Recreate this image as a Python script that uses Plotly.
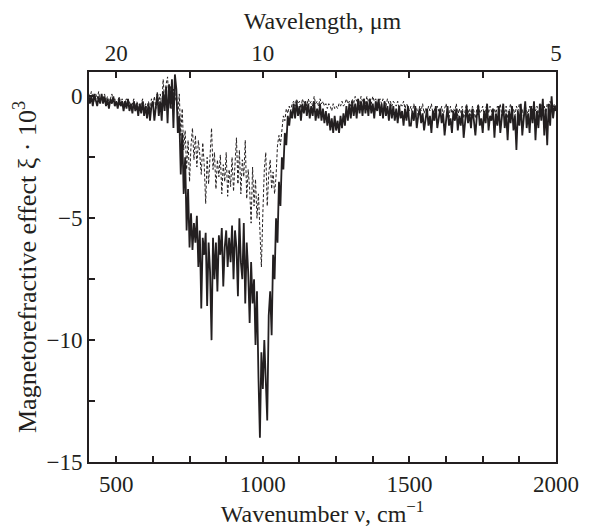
import numpy as np
import plotly.graph_objects as go

# wavenumber grid, cm^-1 (5 cm^-1 step)
wavenumber = np.arange(405, 2001, 5)

# solid curve, xi * 10^3
effect_solid = [
    0.1, -0.3, 0.0, -0.4, 0.1, -0.2, -0.4, 0.0, -0.3, 0.1,
    -0.3, 0.0, -0.4, -0.1, -0.5, -0.1, -0.3, 0.0, -0.4, -0.2,
    -0.5, -0.1, -0.4, -0.2, -0.6, -0.2, -0.5, -0.1, -0.6, -0.3,
    -0.7, -0.2, -0.6, -0.3, -0.8, -0.3, -0.7, -0.2, -0.8, -0.4,
    -0.9, -0.3, -1.0, -0.4, -0.2, -1.0, -0.3, 0.1, -0.8, -0.2,
    -1.0, 0.2, -0.6, 0.4, -1.1, 0.5, -0.5, 0.7, -1.3, 0.9,
    0.3, -1.5, -0.8, -3.2, -1.5, -4.0, -2.5, -5.5, -3.8, -6.2,
    -4.8, -6.3, -5.2, -6.0, -4.9, -7.0, -5.5, -8.7, -5.8, -6.5,
    -5.6, -8.6, -6.0, -7.2, -10.0, -5.8, -7.5, -6.0, -8.0, -5.7,
    -6.5, -5.4, -7.8, -6.2, -5.5, -7.0, -5.8, -6.8, -5.3, -7.5,
    -5.5, -6.2, -8.2, -5.0, -6.8, -7.5, -5.2, -8.5, -6.0, -7.2,
    -9.3, -6.8, -8.5, -7.5, -10.2, -8.0, -11.5, -14.0, -10.5, -12.0,
    -10.0, -11.5, -13.3, -9.0, -8.0, -9.8, -6.5, -7.5, -5.0, -6.0,
    -3.5, -4.5, -2.5, -3.0, -1.5, -2.0, -0.8, -1.2, -0.6, -0.9,
    -0.3, -0.9, -0.2, -0.8, -0.4, -1.0, -0.3, -0.7, -0.2, -0.8,
    -0.3, -0.9, -0.4, -0.8, -0.2, -1.0, -0.5, -0.9, -0.3, -1.0,
    -0.5, -1.1, -0.6, -1.2, -0.7, -1.4, -0.9, -1.5, -0.8, -1.4,
    -1.0, -1.5, -0.8, -1.3, -0.7, -1.2, -0.4, -1.0, -0.3, -0.9,
    -0.2, -0.8, -0.3, -0.9, -0.1, -0.7, -0.2, -0.8, -0.1, -0.7,
    -0.2, -0.8, -0.1, -0.7, -0.3, -0.9, -0.2, -0.6, -0.1, -0.8,
    -0.3, -0.9, -0.2, -0.8, -0.4, -1.0, -0.3, -0.9, -0.4, -1.0,
    -0.5, -1.1, -0.4, -0.9, -0.6, -1.2, -0.5, -1.0, -0.4, -1.2,
    -1.2, -0.6, -1.0, -0.4, -1.3, -0.8, -0.5, -1.1, -0.7, -1.4,
    -0.9, -0.5, -1.2, -0.8, -1.5, -0.6, -1.0, -0.4, -1.3, -0.9,
    -0.5, -1.1, -0.7, -1.6, -0.8, -0.4, -1.2, -0.9, -1.5, -0.6,
    -1.0, -0.5, -1.4, -0.8, -1.2, -0.6, -1.7, -0.9, -0.4, -1.1,
    -0.7, -1.3, -0.5, -1.0, -1.6, -0.8, -0.4, -1.2, -0.9, -1.5,
    -0.6, -1.1, -0.3, -1.4, -0.8, -1.0, -0.5, -1.7, -0.7, -1.2,
    -0.4, -1.5, -0.9, -0.3, -1.3, -0.7, -1.8, -0.6, -1.1, -0.4,
    -1.4, -0.8, -2.2, -0.6, -1.2, -0.3, -1.6, -0.9, -0.2, -1.3,
    -0.7, -1.5, -0.4, -1.1, -0.2, -1.8, -0.6, -1.3, -0.3, -1.0,
    -0.1, -1.6, -0.5, -2.0, -0.3, -1.2, 0.0, -0.9, -0.4, -0.6,
]

# dashed curve, xi * 10^3
effect_dashed = [
    0.1, -0.1, 0.2, 0.0, -0.2, 0.1, -0.1, 0.2, -0.2, 0.0,
    -0.1, 0.1, -0.2, 0.0, -0.3, -0.1, 0.1, -0.2, -0.1, -0.3,
    -0.2, 0.0, -0.3, -0.1, -0.4, -0.2, -0.1, -0.4, -0.2, -0.5,
    -0.3, -0.1, -0.5, -0.2, -0.4, -0.6, -0.3, -0.1, -0.5, -0.3,
    -0.5, -0.2, -0.6, -0.1, -0.4, 0.0, -0.5, 0.2, -0.3, 0.1,
    -0.4, 0.7, -0.2, 0.5, 0.8, -0.3, 0.4, -0.5, 0.3, -0.2,
    0.2, -0.8, 0.1, -1.6, -0.5, -2.2, -1.4, -3.0, -1.8, -3.5,
    -2.0, -1.3, -2.6, -1.6, -2.9, -1.8, -2.4, -3.2, -1.9, -2.8,
    -4.4, -2.5, -3.6, -2.2, -1.3, -3.0, -2.3, -3.8, -2.6, -3.3,
    -2.4, -4.0, -2.8, -3.5, -2.3, -4.1, -3.0, -3.7, -2.5, -3.9,
    -2.8, -1.7, -3.6, -2.2, -4.0, -2.6, -3.3, -1.8, -4.2, -3.0,
    -3.8, -5.2, -2.9, -4.5, -3.4, -5.0, -4.0, -6.0, -7.0, -4.8,
    -3.0, -2.3, -4.5, -3.2, -2.6, -3.8, -3.1, -4.0, -3.3, -2.0,
    -1.6, -2.0, -1.2, -0.8, -1.0, -0.5, -0.7, -0.4, -0.6, -0.3,
    -0.2, -0.4, -0.1, -0.3, -0.2, -0.5, -0.1, -0.3, -0.2, -0.4,
    -0.1, -0.3, -0.2, -0.4, 0.0, -0.3, -0.2, -0.4, -0.1, -0.3,
    -0.2, -0.4, -0.3, -0.5, -0.3, -0.4, -0.6, -0.3, -0.5, -0.4,
    -0.5, -0.3, -0.4, -0.2, -0.4, -0.3, -0.1, -0.3, -0.2, -0.4,
    -0.1, -0.3, 0.0, -0.2, -0.1, -0.3, 0.0, -0.2, -0.1, -0.3,
    0.0, -0.2, -0.1, -0.3, 0.0, -0.2, -0.1, -0.3, -0.2, -0.1,
    -0.3, -0.1, -0.2, -0.4, -0.1, -0.3, -0.2, -0.4, -0.2, -0.3,
    -0.4, -0.2, -0.5, -0.3, -0.4, -0.2, -0.5, -0.3, -0.4, -0.6,
    -0.4, -0.7, -0.3, -0.6, -0.5, -0.8, -0.4, -0.6, -0.3, -0.7,
    -0.5, -0.8, -0.4, -0.6, -0.3, -0.7, -0.5, -0.9, -0.4, -0.6,
    -0.7, -0.4, -0.8, -0.5, -0.3, -0.6, -0.9, -0.4, -0.7, -0.5,
    -0.6, -0.3, -0.8, -0.5, -0.7, -0.4, -0.9, -0.6, -0.3, -0.7,
    -0.5, -0.8, -0.4, -0.6, -0.9, -0.5, -0.3, -0.7, -0.6, -0.4,
    -0.8, -0.5, -0.3, -0.7, -0.4, -0.6, -0.9, -0.5, -0.7, -0.4,
    -0.6, -0.3, -0.8, -0.5, -0.7, -0.4, -0.9, -0.6, -0.3, -0.7,
    -0.5, -0.8, -0.4, -0.6, -0.3, -0.7, -0.5, -0.9, -0.4, -0.6,
    -0.7, -0.4, -0.8, -0.5, -0.3, -0.6, -0.4, -0.7, -0.5, -0.3,
    -0.6, -0.4, -0.7, -0.3, -0.5, -0.2, -0.6, -0.4, -0.3, -0.5,
]

# bottom axis ticks (cm^-1) and top axis wavelength labels (um)
bottom_ticks = [500, 625, 750, 875, 1000, 1125, 1250, 1375, 1500, 1625, 1750, 1875, 2000]
bottom_labels = ["500", "", "", "", "1000", "", "", "", "1500", "", "", "", "2000"]
top_ticks = [500, 750, 1000, 1250, 1500, 1750, 2000]
top_labels = ["20", "", "10", "", "", "", "5"]
y_ticks = [0, -2.5, -5, -7.5, -10, -12.5, -15]
y_labels = ["0", "", "\u22125", "", "\u221210", "", "\u221215"]

INK = "#231f20"
FONT = "Liberation Serif"

fig = go.Figure()
fig.add_trace(go.Scatter(x=wavenumber, y=effect_solid, mode="lines",
                         line=dict(color=INK, width=1.8), showlegend=False))
fig.add_trace(go.Scatter(x=wavenumber, y=effect_dashed, mode="lines",
                         line=dict(color=INK, width=1, dash="3px,2px"), showlegend=False))
# invisible trace to activate the top axis
fig.add_trace(go.Scatter(x=[wavenumber[0]], y=[0], xaxis="x2", mode="lines",
                         line=dict(width=0), hoverinfo="skip", showlegend=False))

axis_common = dict(showline=True, linecolor=INK, linewidth=2, ticks="inside",
                   ticklen=6, tickwidth=1.5, tickcolor=INK, showgrid=False,
                   zeroline=False, tickfont=dict(family=FONT, size=23, color=INK))
title_font = dict(family=FONT, size=24, color=INK)

# page body has an 8px margin, so the figure is shifted accordingly
fig.update_layout(
    width=583, height=523,
    paper_bgcolor="white", plot_bgcolor="white",
    margin=dict(l=81, r=31, t=63, b=69),
    font=dict(family=FONT, color=INK),
    xaxis=dict(range=[407, 2000], tickmode="array", tickvals=bottom_ticks,
               ticktext=bottom_labels, mirror=True,
               title=dict(text="Wavenumber \u03bd, cm<sup>\u22121</sup>",
                          font=title_font, standoff=2),
               **axis_common),
    xaxis2=dict(range=[407, 2000], overlaying="x", side="top", anchor="y",
                tickmode="array", tickvals=top_ticks, ticktext=top_labels,
                title=dict(text="Wavelength, \u03bcm", font=title_font, standoff=4),
                **axis_common),
    yaxis=dict(range=[-15, 1], tickmode="array", tickvals=y_ticks,
               ticktext=y_labels, mirror=True,
               title=dict(text="Magnetorefractive effect \u03be \u00b7 10<sup>3</sup>",
                          font=dict(family=FONT, size=26, color=INK), standoff=2),
               **axis_common),
)

fig.write_html("out.html")
